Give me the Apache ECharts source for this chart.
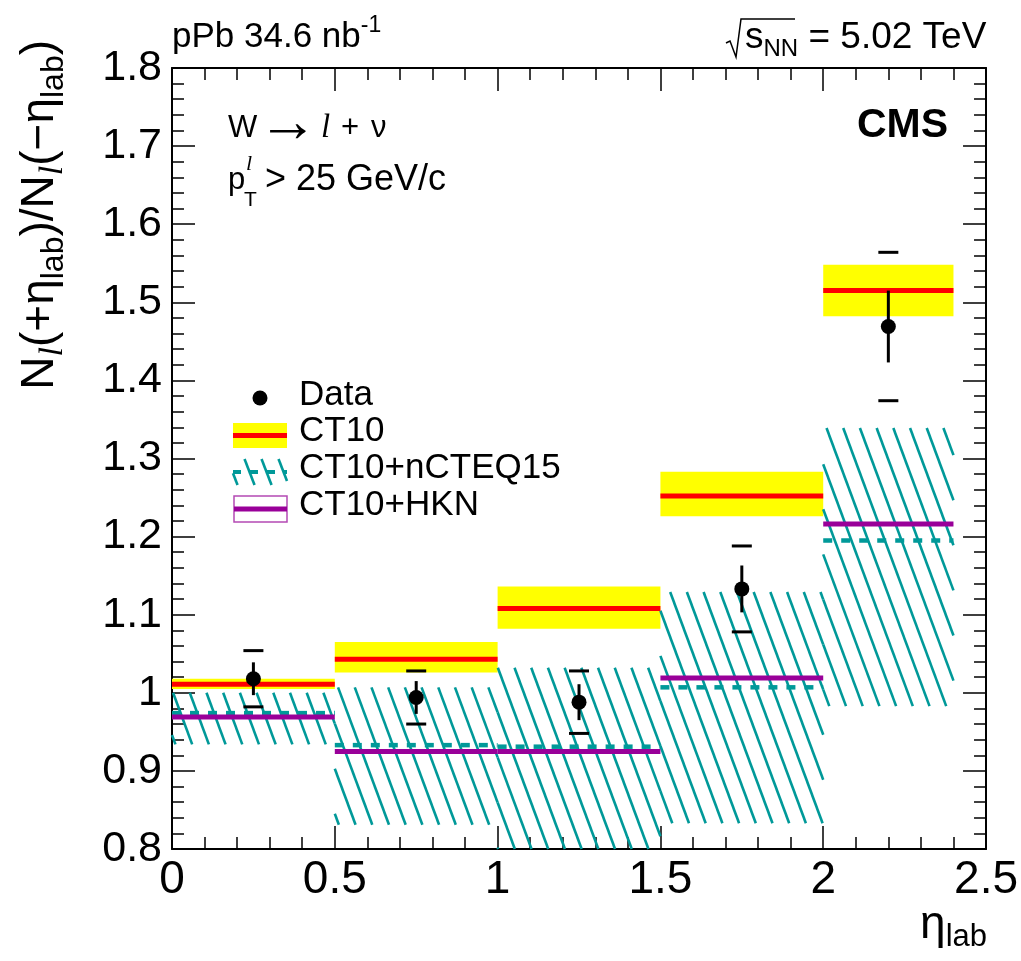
<!DOCTYPE html>
<html><head><meta charset="utf-8">
<script src="https://cdn.jsdelivr.net/npm/echarts@6/dist/echarts.min.js"></script>
<style>html,body{margin:0;padding:0;background:#fff}#c{width:1021px;height:961px}</style>
</head><body><div id="c"></div>
<script>
// ---- data ----
const binLo = [0.0, 0.5, 1.0, 1.5, 2.0];
const binHi = [0.5, 1.0, 1.5, 2.0, 2.4];
const dataX = [0.25, 0.75, 1.25, 1.75, 2.2];
const dataY = [1.018, 0.994, 0.988, 1.133, 1.469];
const statErr = [0.021, 0.021, 0.023, 0.030, 0.046];
const systErr = [0.036, 0.034, 0.040, 0.055, 0.095];
const ct10 = [1.011, 1.043, 1.108, 1.252, 1.515];
const ct10Lo = [1.005, 1.026, 1.082, 1.226, 1.482];
const ct10Hi = [1.018, 1.065, 1.136, 1.283, 1.548];
const ncteq = [0.974, 0.933, 0.931, 1.007, 1.195];
const ncteqLo = [0.934, 0.831, 0.78, 0.833, 0.983];
const ncteqHi = [1.000, 1.007, 1.032, 1.129, 1.339];
const hkn = [0.969, 0.925, 0.925, 1.019, 1.216];
const xTicks = {min: 0, max: 2.5, step: 0.5};
const yTicks = {min: 0.8, max: 1.8, step: 0.1};

const FF = 'Liberation Sans, Arial, Helvetica, sans-serif';
const TEAL = '#009999';

function clipRect(r, c) {
  const x1 = Math.max(r.x, c.x), y1 = Math.max(r.y, c.y);
  const x2 = Math.min(r.x + r.width, c.x + c.width), y2 = Math.min(r.y + r.height, c.y + c.height);
  if (x2 <= x1 || y2 <= y1) return null;
  return {x: x1, y: y1, width: x2 - x1, height: y2 - y1};
}
function hatchLines(r, s, d, style) {
  const x1 = r.x, x2 = r.x + r.width, y1 = r.y, y2 = r.y + r.height;
  const out = [];
  const cmin = x1 - y2 / s, cmax = x2 - y1 / s;
  for (let k = Math.ceil(cmin / d); k <= Math.floor(cmax / d); k++) {
    const c = k * d;
    const ya = Math.max(y1, (x1 - c) * s), yb = Math.min(y2, (x2 - c) * s);
    if (yb - ya > 0.5) out.push({type: 'line', shape: {x1: c + ya / s, y1: ya, x2: c + yb / s, y2: yb}, style: style});
  }
  return out;
}
function bandItem(fill) {
  return function (params, api) {
    const p1 = api.coord([api.value(0), api.value(3)]);
    const p2 = api.coord([api.value(1), api.value(2)]);
    const r = clipRect({x: p1[0], y: p1[1], width: p2[0] - p1[0], height: p2[1] - p1[1]}, params.coordSys);
    if (!r) return null;
    return {type: 'rect', shape: r, style: {fill: fill}};
  };
}
function hatchItem(params, api) {
  const p1 = api.coord([api.value(0), api.value(3)]);
  const p2 = api.coord([api.value(1), api.value(2)]);
  const r = clipRect({x: p1[0], y: p1[1], width: p2[0] - p1[0], height: p2[1] - p1[1]}, params.coordSys);
  if (!r) return null;
  return {type: 'group', children: hatchLines(r, 2.7, 16.7, {stroke: TEAL, lineWidth: 2.6})};
}
function hlineItem(style) {
  return function (params, api) {
    const a = api.coord([api.value(0), api.value(2)]);
    const b = api.coord([api.value(1), api.value(2)]);
    return {type: 'line', shape: {x1: a[0], y1: a[1], x2: b[0], y2: b[1]}, style: style};
  };
}
function dataItem(params, api) {
  const x = api.value(0), y = api.value(1), st = api.value(2), sy = api.value(3);
  const p = api.coord([x, y]);
  const t = api.coord([x, y + st]), b = api.coord([x, y - st]);
  const sh = api.coord([x, y + sy]), sl = api.coord([x, y - sy]);
  const ls = {stroke: '#000', lineWidth: 3};
  return {type: 'group', children: [
    {type: 'line', shape: {x1: t[0], y1: t[1], x2: b[0], y2: b[1]}, style: ls},
    {type: 'line', shape: {x1: sh[0] - 10, y1: sh[1], x2: sh[0] + 10, y2: sh[1]}, style: ls},
    {type: 'line', shape: {x1: sl[0] - 10, y1: sl[1], x2: sl[0] + 10, y2: sl[1]}, style: ls},
    {type: 'circle', shape: {cx: p[0], cy: p[1], r: 7.5}, style: {fill: '#000'}}
  ]};
}

const bandData = binLo.map((lo, i) => [lo, binHi[i], ct10Lo[i], ct10Hi[i]]);
const hatchData = binLo.map((lo, i) => [lo, binHi[i], ncteqLo[i], ncteqHi[i]]);
const ct10Data = binLo.map((lo, i) => [lo, binHi[i], ct10[i]]);
const ncData = binLo.map((lo, i) => [lo, binHi[i], ncteq[i]]);
const hknData = binLo.map((lo, i) => [lo, binHi[i], hkn[i]]);
const ptData = dataX.map((x, i) => [x, dataY[i], statErr[i], systErr[i]]);

function axisX(pos, showLabel) {
  return {type: 'value', position: pos, min: xTicks.min, max: xTicks.max, interval: xTicks.step,
    axisLine: {show: true, onZero: false, lineStyle: {color: '#000', width: 2}},
    axisTick: {show: true, inside: true, length: 23, lineStyle: {color: '#000', width: 1.5}},
    minorTick: {show: true, splitNumber: 5, length: 12, lineStyle: {color: '#000', width: 1.5}},
    splitLine: {show: false}, minorSplitLine: {show: false},
    axisLabel: {show: showLabel, fontSize: 46, fontFamily: FF, color: '#000', margin: 8}};
}
function axisY(pos, showLabel) {
  return {type: 'value', position: pos, min: yTicks.min, max: yTicks.max, interval: yTicks.step,
    axisLine: {show: true, onZero: false, lineStyle: {color: '#000', width: 2}},
    axisTick: {show: true, inside: true, length: 23, lineStyle: {color: '#000', width: 1.5}},
    minorTick: {show: true, splitNumber: 5, length: 12, lineStyle: {color: '#000', width: 1.5}},
    splitLine: {show: false}, minorSplitLine: {show: false},
    axisLabel: {show: showLabel, fontSize: 43, fontFamily: FF, color: '#000', margin: 10}};
}

const mainRich = (fs, lh) => ({fontSize: fs, fontFamily: FF, color: '#000', lineHeight: lh});
const subRich = (fs, lh) => ({fontSize: fs, fontFamily: FF, color: '#000', lineHeight: lh, verticalAlign: 'bottom'});
const supRich = (fs, lh) => ({fontSize: fs, fontFamily: FF, color: '#000', lineHeight: lh, verticalAlign: 'top'});
const txt = (x, y, s, font, extra) => Object.assign({type: 'text', x: x, y: y, style: {text: s, font: font, fill: '#000', align: 'left', verticalAlign: 'middle'}}, extra || {});

const legendHatch = hatchLines({x: 233, y: 459, width: 54, height: 26}, 2.6, 17, {stroke: TEAL, lineWidth: 2.6});

const graphics = [
  // top-left lumi
  {type: 'text', x: 172, y: 37, style: {text: '{a|pPb 34.6 nb}{s|-1}', align: 'left', verticalAlign: 'middle',
    rich: {a: mainRich(35, 46), s: supRich(23, 20)}}},
  // sqrt(s_NN)
  {type: 'polyline', shape: {points: [[726, 43], [730, 41], [736, 57], [741, 19], [795, 19]]}, style: {stroke: '#000', lineWidth: 1.5, fill: null}},
  {type: 'text', x: 745, y: 38, style: {text: '{a|s}{s|NN}{a| = 5.02 TeV}', align: 'left', verticalAlign: 'middle',
    rich: {a: mainRich(37, 46), s: subRich(24, 20)}}},
  // CMS
  {type: 'text', x: 948, y: 126, style: {text: 'CMS', font: 'bold 41px ' + FF, fill: '#000', align: 'right', verticalAlign: 'middle'}},
  // W -> l + nu
  txt(228, 128, 'W', '31px ' + FF),
  txt(258, 124, '→', '60px ' + FF),
  txt(321, 128, 'l', 'italic 33px Liberation Serif, serif'),
  txt(341, 128, '+', '31px ' + FF),
  txt(371, 128, 'ν', '31px ' + FF),
  // pT^l > 25 GeV/c
  txt(228, 180, 'p', '31px ' + FF),
  txt(246, 164, 'l', 'italic 22px Liberation Serif, serif'),
  txt(244, 200, 'T', '21px ' + FF),
  txt(265, 180, '> 25 GeV/c', '36px ' + FF),
  // y axis title
  {type: 'text', x: 40, y: 40, rotation: Math.PI / 2, style: {
    text: '{a|N}{li|l}{a|(+η}{s|lab}{a|)/N}{li|l}{a|(−η}{s|lab}{a|)}', align: 'right', verticalAlign: 'middle',
    rich: {a: mainRich(46, 60), s: subRich(32, 28),
      li: {fontSize: 34, fontFamily: 'Liberation Serif, serif', fontStyle: 'italic', color: '#000', lineHeight: 28, verticalAlign: 'bottom'}}}},
  // x axis title
  {type: 'text', x: 987, y: 925, style: {text: '{a|η}{s|lab}', align: 'right', verticalAlign: 'middle',
    rich: {a: mainRich(46, 56), s: subRich(31, 26)}}},
  // legend
  {type: 'circle', shape: {cx: 260, cy: 398, r: 7.5}, style: {fill: '#000'}},
  txt(299, 395, 'Data', '35px ' + FF),
  {type: 'rect', shape: {x: 233, y: 423, width: 54, height: 25}, style: {fill: '#ffff00'}},
  {type: 'line', shape: {x1: 233, y1: 435.5, x2: 287, y2: 435.5}, style: {stroke: '#ff0000', lineWidth: 5}},
  txt(299, 431, 'CT10', '35px ' + FF),
  {type: 'group', children: legendHatch},
  {type: 'line', shape: {x1: 233, y1: 472, x2: 287, y2: 472}, style: {stroke: TEAL, lineWidth: 4, lineDash: [8, 9]}},
  txt(299, 468, 'CT10+nCTEQ15', '35px ' + FF),
  {type: 'rect', shape: {x: 234, y: 496, width: 53, height: 26}, style: {fill: null, stroke: '#b44ab4', lineWidth: 1.5}},
  {type: 'line', shape: {x1: 234, y1: 509, x2: 287, y2: 509}, style: {stroke: '#990099', lineWidth: 5}},
  txt(299, 505, 'CT10+HKN', '35px ' + FF)
];

const chart = echarts.init(document.getElementById('c'), null, {renderer: 'canvas'});
chart.setOption({
  animation: false,
  backgroundColor: '#fff',
  grid: {left: 172, right: 34, top: 68, bottom: 112, containLabel: false},
  xAxis: [axisX('bottom', true), axisX('top', false)],
  yAxis: [axisY('left', true), axisY('right', false)],
  series: [
    {type: 'custom', name: 'CT10 band', silent: true, z: 1, data: bandData, encode: {x: [0, 1], y: [2, 3]}, renderItem: bandItem('#ffff00')},
    {type: 'custom', name: 'nCTEQ15 band', silent: true, z: 2, data: hatchData, encode: {x: [0, 1], y: [2, 3]}, renderItem: hatchItem},
    {type: 'custom', name: 'CT10', silent: true, z: 3, data: ct10Data, encode: {x: [0, 1], y: 2}, renderItem: hlineItem({stroke: '#ff0000', lineWidth: 5})},
    {type: 'custom', name: 'CT10+nCTEQ15', silent: true, z: 4, data: ncData, encode: {x: [0, 1], y: 2}, renderItem: hlineItem({stroke: TEAL, lineWidth: 4.5, lineDash: [9, 9]})},
    {type: 'custom', name: 'CT10+HKN', silent: true, z: 5, data: hknData, encode: {x: [0, 1], y: 2}, renderItem: hlineItem({stroke: '#990099', lineWidth: 5})},
    {type: 'custom', name: 'Data', silent: true, z: 10, data: ptData, encode: {x: 0, y: 1}, renderItem: dataItem}
  ],
  graphic: graphics
});
</script>
</body></html>
